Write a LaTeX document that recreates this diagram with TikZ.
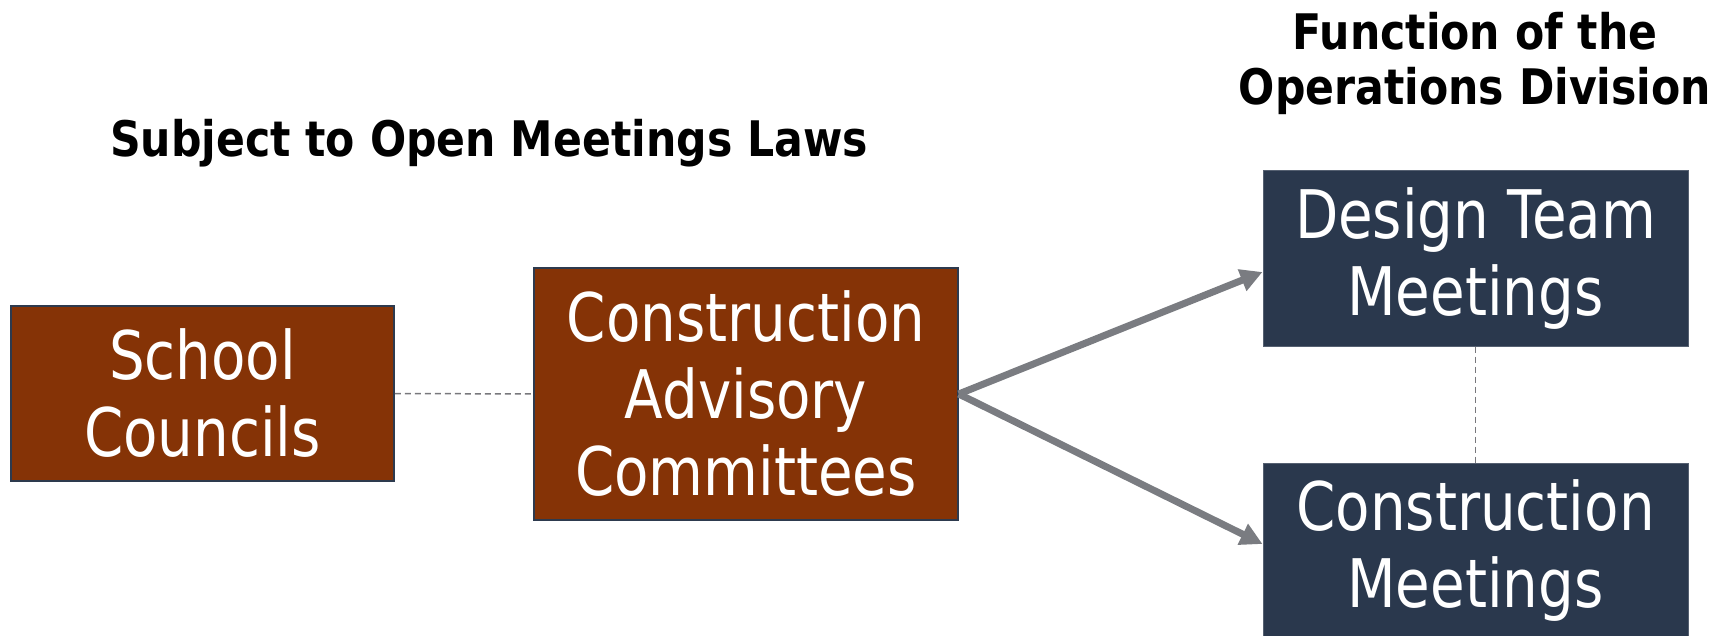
\documentclass[tikz,border=0pt]{standalone}
\usepackage{fontspec}
\usetikzlibrary{arrows.meta}
\newfontfamily\boxfont{DejaVu Sans}[FakeStretch=0.84]
\newfontfamily\headfont{DejaVu Sans}[FakeStretch=0.87]
\definecolor{brownbox}{RGB}{133,51,6}
\definecolor{navybox}{RGB}{42,56,77}
\definecolor{edgecol}{RGB}{45,58,78}
\definecolor{arrowgrey}{RGB}{122,124,129}
\definecolor{dashgrey}{RGB}{120,120,124}
\begin{document}
\begin{tikzpicture}[x=1pt,y=-1pt,
  boxtext/.style={text=white, align=center, font=\boxfont\fontsize{67}{77}\selectfont, inner sep=0pt},
  brownnode/.style={boxtext, fill=brownbox, draw=edgecol, line width=1.5pt},
  navynode/.style={boxtext, fill=navybox, draw=navybox!80!white, line width=1pt},
  headtext/.style={align=center, font=\headfont\bfseries\fontsize{49}{55}\selectfont, inner sep=0pt},
  flowarrow/.style={draw=arrowgrey, line width=7pt, -{Triangle[length=22pt,width=22pt]}},
  linkdash/.style={draw=dashgrey, line width=1.5pt, dash pattern=on 6pt off 4pt}
]
\useasboundingbox (0,0) rectangle (1727,636);
\node[brownnode, minimum width=383pt, minimum height=175pt] (school) at (202.5,393.5) {School\\Councils};
\node[brownnode, minimum width=424pt, minimum height=252pt] (cac) at (746,394) {Construction\\Advisory\\Committees};
\node[navynode, minimum width=425pt, minimum height=175pt] (design) at (1475.5,258.5) {Design Team\\Meetings};
\node[navynode, minimum width=425pt, minimum height=175pt] (constm) at (1475.5,550.5) {Construction\\Meetings};
\node[headtext] (subj) at (489,143) {Subject to Open Meetings Laws};
\node[headtext] (func) at (1475,63) {Function of the\\Operations Division};
\draw[linkdash] (school.east) -- (cac.west);
\draw[linkdash] (design.south) -- (constm.north);
\draw[flowarrow] (cac.east) -- ([yshift=-13.5pt]design.west);
\draw[flowarrow] (cac.east) -- ([yshift=6.5pt]constm.west);
\end{tikzpicture}
\end{document}
